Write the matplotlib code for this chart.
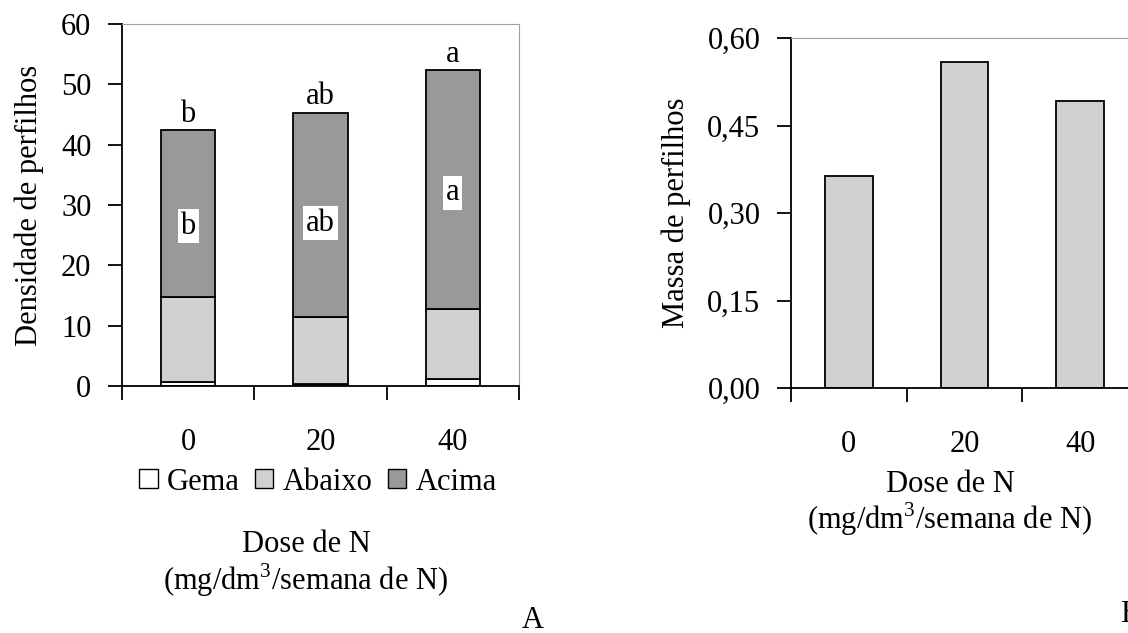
import matplotlib
matplotlib.use("Agg")
import matplotlib.pyplot as plt
import numpy as np
from matplotlib.patches import Patch

plt.rcParams['font.family'] = ['Liberation Serif', 'DejaVu Serif']
plt.rcParams['mathtext.fontset'] = 'custom'
plt.rcParams['mathtext.rm'] = 'Liberation Serif'

# data
doses = ['0', '20', '40']
gema = [0.7, 0.3, 1.1]
abaixo = [14.1, 11.1, 11.6]
acima = [27.6, 33.9, 39.7]
letra_total = ['b', 'ab', 'a']
letra_acima = ['b', 'ab', 'a']
pos_letra_acima = [26.5, 27.0, 32.0]

massa = [0.363, 0.559, 0.492]
massa_ticks = [0.00, 0.15, 0.30, 0.45, 0.60]

fs = 22
c_acima = '#999999'
c_abaixo = '#d0d0d0'

fig = plt.figure(figsize=(11.28, 6.33), dpi=100)

def style_axes(ax):
    ax.spines['left'].set_color('black')
    ax.spines['bottom'].set_color('black')
    ax.spines['left'].set_linewidth(1.3)
    ax.spines['bottom'].set_linewidth(1.3)
    ax.spines['top'].set_color('#a0a0a0')
    ax.spines['right'].set_color('#a0a0a0')
    ax.tick_params(axis='y', direction='out', length=10, width=1.3, pad=12, labelsize=fs)
    ax.tick_params(axis='x', which='major', length=0, pad=30, labelsize=fs)
    ax.tick_params(axis='x', which='minor', direction='out', length=10, width=1.3)

#%% A - stacked bars
ax1 = fig.add_axes([122/1128, 1 - 386/633, 397/1128, 362/633])
x = np.arange(len(doses))
w = 0.41
bot2 = np.array(gema) + np.array(abaixo)
tot = bot2 + np.array(acima)
ax1.bar(x, gema, w, color='white', edgecolor='black', linewidth=1.3)
ax1.bar(x, abaixo, w, bottom=gema, color=c_abaixo, edgecolor='black', linewidth=1.3)
ax1.bar(x, acima, w, bottom=bot2, color=c_acima, edgecolor='black', linewidth=1.3)
for i in range(len(doses)):
    ax1.text(x[i], tot[i] + 0.2, letra_total[i], ha='center', va='bottom', fontsize=fs)
    ax1.text(x[i], pos_letra_acima[i], letra_acima[i], ha='center', va='center', fontsize=fs,
             bbox=dict(facecolor='white', edgecolor='none', pad=2))
ax1.set_xlim(-0.5, 2.5)
ax1.set_ylim(0, 60)
ax1.set_yticks(range(0, 61, 10))
ax1.set_xticks(x)
ax1.set_xticklabels(doses)
ax1.set_xticks([-0.5, 0.5, 1.5, 2.5], minor=True)
ax1.set_ylabel('Densidade de perfilhos', fontsize=fs, labelpad=12)
style_axes(ax1)

handles = [Patch(facecolor='white', edgecolor='black', label='Gema'),
           Patch(facecolor=c_abaixo, edgecolor='black', label='Abaixo'),
           Patch(facecolor=c_acima, edgecolor='black', label='Acima')]
fig.legend(handles=handles, loc='center', bbox_to_anchor=(318/1128, 1 - 482/633), ncol=3,
           frameon=False, fontsize=fs, handlelength=0.6, handleheight=0.6,
           handletextpad=0.3, columnspacing=0.5)
fig.text(306/1128, 1 - 545/633, 'Dose de N', ha='center', va='center', fontsize=fs)
fig.text(306/1128, 1 - 580/633, '(mg/dm$^{\\mathrm{3}}$/semana de N)', ha='center', va='center', fontsize=fs)
fig.text(533/1128, 1 - 620/633, 'A', ha='center', va='center', fontsize=fs)

#%% B - massa
ax2 = fig.add_axes([791/1128, 1 - 388/633, 347/1128, 350/633])
ax2.bar(x, massa, w, color=c_abaixo, edgecolor='black', linewidth=1.3)
ax2.set_xlim(-0.5, 2.5)
ax2.set_ylim(0, 0.6)
ax2.set_yticks(massa_ticks)
ax2.set_yticklabels([('%.2f' % v).replace('.', ',') for v in massa_ticks])
ax2.set_xticks(x)
ax2.set_xticklabels(doses)
ax2.set_xticks([-0.5, 0.5, 1.5, 2.5], minor=True)
ax2.set_ylabel('Massa de perfilhos', fontsize=fs, labelpad=12)
style_axes(ax2)
fig.text(950/1128, 1 - 484/633, 'Dose de N', ha='center', va='center', fontsize=fs)
fig.text(950/1128, 1 - 519/633, '(mg/dm$^{\\mathrm{3}}$/semana de N)', ha='center', va='center', fontsize=fs)
fig.text(1130/1128, 1 - 615/633, 'B', ha='center', va='center', fontsize=fs)

fig.savefig('out.png', dpi=100)
